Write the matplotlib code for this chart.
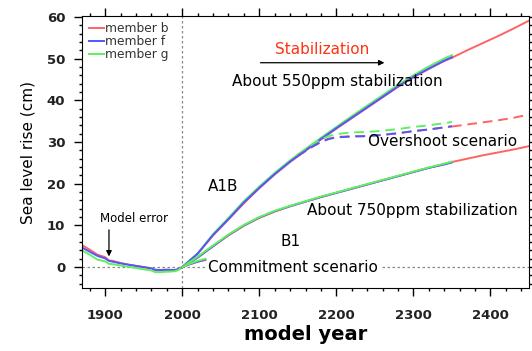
import matplotlib
matplotlib.use("Agg")
import matplotlib.pyplot as plt
from matplotlib.ticker import MultipleLocator

''' --------------- data (read off the reference) --------------- '''
hist_years = [1870, 1880, 1890, 1900, 1905, 1910, 1920, 1930, 1940, 1950, 1960, 1965, 1970, 1980, 1990, 1995, 2000]
hist_b = [5.3, 4.2, 3.0, 2.4, 1.6, 1.5, 1.0, 0.6, 0.3, 0.0, -0.3, -0.8, -0.8, -0.7, -0.8, -0.4, 0.0]
hist_f = [4.7, 3.7, 2.7, 2.1, 1.5, 1.3, 0.9, 0.6, 0.3, 0.0, -0.3, -0.6, -0.7, -0.6, -0.7, -0.5, 0.0]
hist_g = [4.0, 3.0, 1.8, 1.4, 0.8, 0.7, 0.4, 0.1, -0.2, -0.5, -0.8, -1.2, -1.2, -1.1, -1.0, -0.7, 0.0]

# A1B to 2100, then ~550ppm stabilization
stab550_years = [2000, 2020, 2040, 2060, 2080, 2100, 2120, 2140, 2160, 2180, 2200, 2220, 2240,
                 2260, 2280, 2300, 2320, 2340, 2350]
stab550_b = [0.0, 3.2, 7.6, 11.4, 15.3, 18.9, 22.2, 25.2, 27.9, 30.6, 33.2, 35.7, 38.2,
             40.7, 43.2, 45.5, 47.5, 49.4, 50.2]
stab550_f = [0.0, 3.2, 7.7, 11.5, 15.5, 19.0, 22.3, 25.3, 28.0, 30.7, 33.3, 35.8, 38.3,
             40.8, 43.3, 45.6, 47.6, 49.5, 50.3]
stab550_g = [0.0, 3.3, 7.9, 11.8, 15.8, 19.3, 22.6, 25.6, 28.3, 31.0, 33.6, 36.2, 38.7,
             41.2, 43.7, 46.0, 48.1, 50.0, 50.8]
stab550_ext_years = [2350, 2370, 2390, 2410, 2430, 2450]
stab550_ext_b = [50.2, 52.0, 53.7, 55.4, 57.2, 59.1]

# B1 to 2100, then ~750ppm stabilization
stab750_years = [2000, 2020, 2040, 2060, 2080, 2100, 2120, 2140, 2160, 2180, 2200, 2220, 2240,
                 2260, 2280, 2300, 2320, 2340, 2350]
stab750_b = [0.0, 2.3, 5.0, 7.6, 9.9, 11.8, 13.3, 14.6, 15.7, 16.8, 17.8, 18.8, 19.8,
             20.8, 21.8, 22.8, 23.8, 24.7, 25.2]
stab750_f = [0.0, 2.3, 5.0, 7.7, 10.0, 11.9, 13.4, 14.6, 15.7, 16.8, 17.8, 18.8, 19.8,
             20.8, 21.8, 22.8, 23.8, 24.6, 25.1]
stab750_g = [0.0, 2.5, 5.2, 7.8, 10.1, 12.0, 13.5, 14.7, 15.8, 16.9, 17.9, 18.9, 19.9,
             20.9, 21.9, 22.9, 23.9, 24.8, 25.3]
stab750_ext_years = [2350, 2370, 2390, 2410, 2430, 2450]
stab750_ext_b = [25.2, 26.0, 26.8, 27.5, 28.2, 29.0]

# overshoot scenario (dashed)
over_years = [2150, 2160, 2170, 2180, 2190, 2200, 2220, 2240, 2260, 2280, 2300, 2320, 2340, 2350]
over_b = [26.6, 27.8, 29.0, 30.0, 30.8, 31.2, 31.4, 31.4, 31.7, 32.1, 32.6, 33.0, 33.5, 33.7]
over_f = [26.7, 27.9, 29.0, 30.0, 30.7, 31.1, 31.3, 31.4, 31.7, 32.1, 32.6, 33.0, 33.5, 33.8]
over_g = [26.9, 28.3, 29.6, 30.6, 31.4, 31.9, 32.3, 32.4, 32.7, 33.1, 33.6, 34.0, 34.5, 34.8]
over_ext_years = [2350, 2370, 2390, 2410, 2430, 2450]
over_ext_b = [33.7, 34.2, 34.7, 35.2, 35.8, 36.6]

# commitment scenario
commit_years = [2000, 2010, 2020, 2030]
commit_b = [0.0, 0.7, 1.3, 1.7]
commit_f = [0.0, 0.7, 1.3, 1.8]
commit_g = [0.0, 0.8, 1.5, 2.0]

''' --------------- plot --------------- '''
RED, BLUE, GREEN = '#ff6464', '#5555ff', '#5ef05e'
plt.rcParams['font.family'] = ['DejaVu Sans']

fig = plt.figure(figsize=(5.32, 3.51), dpi=100)
ax = fig.add_axes([82 / 532, (351 - 288) / 351, (529 - 82) / 532, (288 - 16) / 351])

ax.axhline(0, color='#888888', lw=0.9, ls=(0, (2, 2)), zorder=1)
ax.axvline(2000, color='#888888', lw=0.9, ls=(0, (2, 2)), zorder=1)

lw = 1.4
dash = (0, (5, 3))
ax.plot(hist_years, hist_b, color=RED, lw=lw, label='member b')
ax.plot(hist_years, hist_f, color=BLUE, lw=lw, label='member f')
ax.plot(hist_years, hist_g, color=GREEN, lw=lw, label='member g')

ax.plot(stab550_ext_years, stab550_ext_b, color=RED, lw=lw)
ax.plot(stab750_ext_years, stab750_ext_b, color=RED, lw=lw)
ax.plot(over_ext_years, over_ext_b, color=RED, lw=lw, ls=dash)

for ys, c in [(stab550_b, RED), (stab550_g, GREEN), (stab550_f, BLUE)]:
    ax.plot(stab550_years, ys, color=c, lw=lw)
for ys, c in [(stab750_b, RED), (stab750_f, BLUE), (stab750_g, GREEN)]:
    ax.plot(stab750_years, ys, color=c, lw=lw)
for ys, c in [(over_b, RED), (over_g, GREEN), (over_f, BLUE)]:
    ax.plot(over_years, ys, color=c, lw=lw, ls=dash)
for ys, c in [(commit_b, RED), (commit_f, BLUE), (commit_g, GREEN)]:
    ax.plot(commit_years, ys, color=c, lw=lw)

ax.set_xlim(1870, 2450)
ax.set_ylim(-5, 60.2)
ax.xaxis.set_major_locator(MultipleLocator(100))
ax.xaxis.set_minor_locator(MultipleLocator(20))
ax.yaxis.set_major_locator(MultipleLocator(10))
ax.yaxis.set_minor_locator(MultipleLocator(2))
ax.tick_params(which='both', direction='out', top=True, right=True, width=1)
ax.tick_params(which='major', length=6)
ax.tick_params(which='minor', length=2.5)
ax.tick_params(axis='x', which='major', pad=9)
ax.tick_params(axis='y', which='major', pad=6)
for lab in ax.get_xticklabels() + ax.get_yticklabels():
    lab.set_fontweight('bold')
    lab.set_fontsize(9.5)
    lab.set_color('#222222')

ax.set_xlabel('model year', fontsize=14, fontweight='bold', labelpad=2)
ax.set_ylabel('Sea level rise (cm)', fontsize=11, labelpad=8)

leg = ax.legend(loc='upper left', frameon=False, fontsize=8.8, handlelength=1.2,
                handletextpad=0.1, labelspacing=0.0, borderaxespad=0.0,
                bbox_to_anchor=(0.005, 0.995))
for t in leg.get_texts():
    t.set_color('#333333')

# annotations
ax.annotate('', xy=(1905, 1.9), xytext=(1905, 9.6),
            arrowprops=dict(arrowstyle='-|>', color='black', lw=0.9, mutation_scale=8))
ax.text(1938, 11.7, 'Model error', fontsize=8.5, ha='center', va='center')
ax.text(2181, 52.2, 'Stabilization', fontsize=11, color='#ff3312', ha='center', va='center')
ax.annotate('', xy=(2266, 49.0), xytext=(2098, 49.0),
            arrowprops=dict(arrowstyle='-|>', color='black', lw=0.9, mutation_scale=8))
ax.text(2065, 44.5, 'About 550ppm stabilization', fontsize=11, ha='left', va='center')
ax.text(2053, 19.4, 'A1B', fontsize=11, ha='center', va='center')
ax.text(2241, 30.1, 'Overshoot scenario', fontsize=11, ha='left', va='center')
ax.text(2162, 13.6, 'About 750ppm stabilization', fontsize=11, ha='left', va='center')
ax.text(2140, 6.2, 'B1', fontsize=11, ha='center', va='center')
ax.text(2034, -0.2, 'Commitment scenario', fontsize=11, ha='left', va='center',
        bbox=dict(facecolor='white', edgecolor='none', pad=1))

fig.savefig('out.png', dpi=100)
